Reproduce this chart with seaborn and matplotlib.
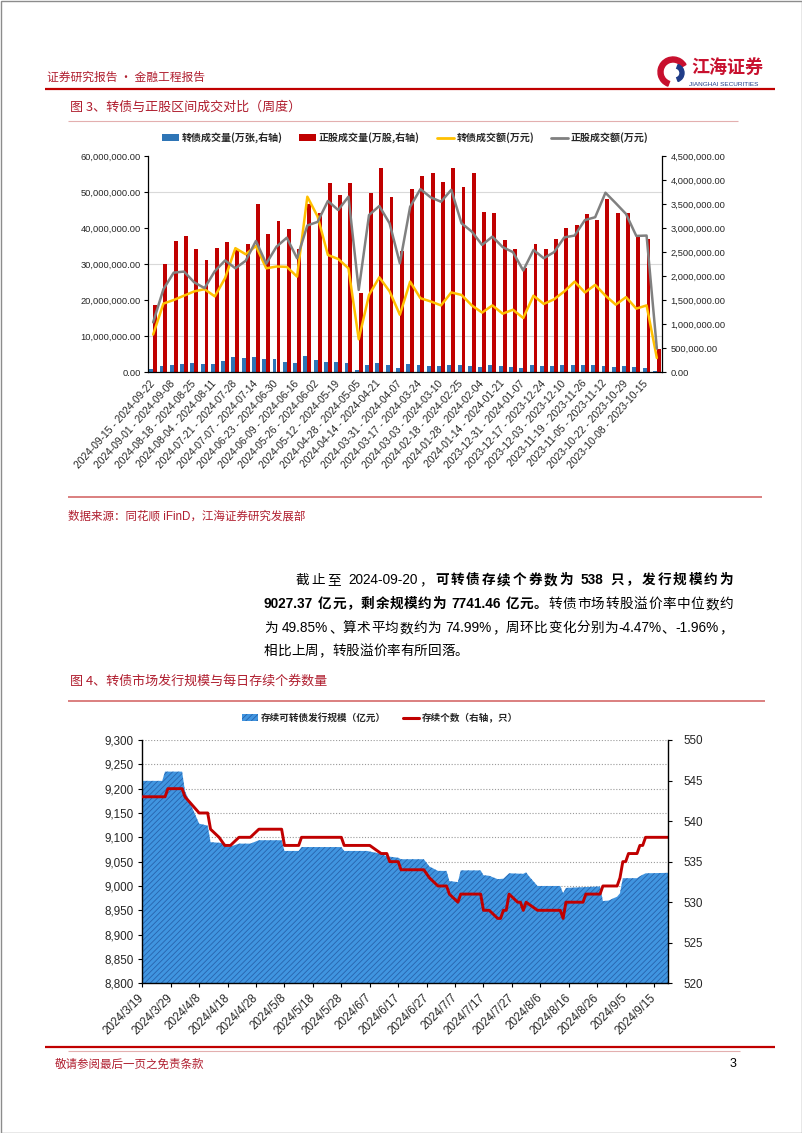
import numpy as np
import pandas as pd
import matplotlib
matplotlib.use("Agg")
import matplotlib.pyplot as plt
import matplotlib.ticker as mticker
from matplotlib.patches import Patch, Wedge, Rectangle
from matplotlib.lines import Line2D
import seaborn as sns

# ---------------- data: chart 1 (weekly) ----------------
weeks = [
    "2024-09-15 - 2024-09-22", "2024-09-08 - 2024-09-15", "2024-09-01 - 2024-09-08", "2024-08-25 - 2024-09-01",
    "2024-08-18 - 2024-08-25", "2024-08-11 - 2024-08-18", "2024-08-04 - 2024-08-11", "2024-07-28 - 2024-08-04",
    "2024-07-21 - 2024-07-28", "2024-07-14 - 2024-07-21", "2024-07-07 - 2024-07-14", "2024-06-30 - 2024-07-07",
    "2024-06-23 - 2024-06-30", "2024-06-16 - 2024-06-23", "2024-06-09 - 2024-06-16", "2024-06-02 - 2024-06-09",
    "2024-05-26 - 2024-06-02", "2024-05-19 - 2024-05-26", "2024-05-12 - 2024-05-19", "2024-05-05 - 2024-05-12",
    "2024-04-28 - 2024-05-05", "2024-04-21 - 2024-04-28", "2024-04-14 - 2024-04-21", "2024-04-07 - 2024-04-14",
    "2024-03-31 - 2024-04-07", "2024-03-24 - 2024-03-31", "2024-03-17 - 2024-03-24", "2024-03-10 - 2024-03-17",
    "2024-03-03 - 2024-03-10", "2024-02-25 - 2024-03-03", "2024-02-18 - 2024-02-25", "2024-02-04 - 2024-02-18",
    "2024-01-28 - 2024-02-04", "2024-01-21 - 2024-01-28", "2024-01-14 - 2024-01-21", "2024-01-07 - 2024-01-14",
    "2023-12-31 - 2024-01-07", "2023-12-24 - 2023-12-31", "2023-12-17 - 2023-12-24", "2023-12-10 - 2023-12-17",
    "2023-12-03 - 2023-12-10", "2023-11-26 - 2023-12-03", "2023-11-19 - 2023-11-26", "2023-11-12 - 2023-11-19",
    "2023-11-05 - 2023-11-12", "2023-10-29 - 2023-11-05", "2023-10-22 - 2023-10-29", "2023-10-15 - 2023-10-22",
    "2023-10-08 - 2023-10-15", "2023-10-01 - 2023-10-08",
]
# 转债成交量(万张, 右轴)
cb_vol = [70000, 132000, 153000, 166000, 187000, 166000, 166000, 222000, 312000, 284000,
          312000, 270000, 270000, 215000, 194000, 340000, 257000, 201000, 201000, 194000,
          45000, 139000, 180000, 153000, 90000, 166000, 139000, 118000, 118000, 146000,
          146000, 132000, 104000, 139000, 118000, 104000, 90000, 139000, 118000, 118000,
          139000, 153000, 139000, 139000, 118000, 104000, 132000, 104000, 90000, 12000]
# 正股成交量(万股, 右轴)
stk_vol = [1400000, 2250000, 2720000, 2840000, 2560000, 2330000, 2580000, 2700000, 2550000, 2660000,
           3510000, 2880000, 3150000, 2970000, 2560000, 3490000, 3320000, 3940000, 3690000, 3930000,
           1650000, 3720000, 4260000, 3640000, 2520000, 3810000, 4080000, 4140000, 3950000, 4240000,
           3860000, 4140000, 3340000, 3320000, 2750000, 2560000, 2160000, 2660000, 2570000, 2770000,
           3010000, 3070000, 3290000, 3170000, 3600000, 3320000, 3310000, 2840000, 2780000, 480000]
# 转债成交额(万元, 左轴)
cb_amt = [10_400_000, 19_000_000, 20_000_000, 21_200_000, 22_400_000, 23_000_000, 21_000_000, 26_100_000, 34_400_000, 32_700_000,
          35_000_000, 28_800_000, 29_300_000, 29_200_000, 26_500_000, 48_700_000, 43_200_000, 32_500_000, 31_400_000, 28_800_000,
          9_100_000, 21_400_000, 26_300_000, 22_400_000, 15_900_000, 25_100_000, 20_500_000, 19_600_000, 18_500_000, 22_100_000,
          21_400_000, 18_500_000, 16_500_000, 18_500_000, 16_200_000, 17_300_000, 15_000_000, 21_200_000, 18_900_000, 20_200_000,
          22_400_000, 25_100_000, 22_100_000, 24_200_000, 21_200_000, 18_700_000, 20_800_000, 17_600_000, 18_500_000, 3_900_000]
# 正股成交额(万元, 左轴)
stk_amt = [13_800_000, 23_000_000, 27_600_000, 27_900_000, 24_900_000, 23_300_000, 28_000_000, 31_000_000, 28_800_000, 30_900_000,
           36_400_000, 30_100_000, 34_800_000, 37_300_000, 31_600_000, 40_700_000, 41_700_000, 47_500_000, 45_000_000, 48_700_000,
           22_800_000, 43_600_000, 46_100_000, 41_300_000, 30_200_000, 45_900_000, 50_800_000, 48_500_000, 47_300_000, 50_600_000,
           41_300_000, 39_000_000, 35_300_000, 37_600_000, 34_700_000, 33_300_000, 28_200_000, 33_900_000, 31_600_000, 33_300_000,
           37_400_000, 37_900_000, 42_200_000, 43_000_000, 49_800_000, 46_900_000, 43_900_000, 37_800_000, 37_900_000, 6_500_000]
series1_names = ["转债成交量(万张,右轴)", "正股成交量(万股,右轴)", "转债成交额(万元)", "正股成交额(万元)"]

# ---------------- data: chart 2 (daily, vertices of the drawn lines) ----------------
scale_dates = ["2024-03-19", "2024-03-26", "2024-03-27", "2024-04-02", "2024-04-03", "2024-04-08", "2024-04-11",
               "2024-04-12", "2024-04-17", "2024-04-18", "2024-04-19", "2024-04-22", "2024-04-26", "2024-04-29",
               "2024-05-07", "2024-05-08", "2024-05-13", "2024-05-14", "2024-05-28", "2024-05-29", "2024-06-06",
               "2024-06-11", "2024-06-13", "2024-06-17", "2024-06-18", "2024-06-26", "2024-06-28", "2024-07-01",
               "2024-07-04", "2024-07-05", "2024-07-08", "2024-07-09", "2024-07-16", "2024-07-17", "2024-07-19",
               "2024-07-22", "2024-07-24", "2024-07-26", "2024-07-31", "2024-08-01", "2024-08-02", "2024-08-05",
               "2024-08-13", "2024-08-14", "2024-08-15", "2024-08-27", "2024-08-28", "2024-08-30", "2024-09-02",
               "2024-09-03", "2024-09-04", "2024-09-09", "2024-09-10", "2024-09-12", "2024-09-20"]
scale_values = [9216, 9216, 9235, 9235, 9195, 9128, 9124,
                9090, 9088, 9081, 9081, 9087, 9087, 9094,
                9094, 9072, 9072, 9080, 9080, 9072, 9072,
                9066, 9061, 9058, 9055, 9055, 9040, 9031,
                9031, 9010, 9008, 9032, 9032, 9022, 9021,
                9014, 9015, 9026, 9025, 9028, 9020, 9000,
                9000, 8985, 8996, 8999, 8969, 8970, 8978,
                8985, 9016, 9016, 9020, 9026, 9027]
count_dates = ["2024-03-19", "2024-03-27", "2024-03-28", "2024-04-02", "2024-04-03", "2024-04-08", "2024-04-11",
               "2024-04-12", "2024-04-15", "2024-04-17", "2024-04-19", "2024-04-22", "2024-04-26", "2024-04-29",
               "2024-05-07", "2024-05-08", "2024-05-13", "2024-05-14", "2024-05-28", "2024-05-29", "2024-06-07",
               "2024-06-11", "2024-06-13", "2024-06-14", "2024-06-17", "2024-06-18", "2024-06-26", "2024-06-28",
               "2024-07-01", "2024-07-04", "2024-07-05", "2024-07-08", "2024-07-09", "2024-07-16", "2024-07-17",
               "2024-07-19", "2024-07-22", "2024-07-23", "2024-07-24", "2024-07-25", "2024-07-26", "2024-07-29",
               "2024-07-30", "2024-07-31", "2024-08-01", "2024-08-05", "2024-08-13", "2024-08-14", "2024-08-15",
               "2024-08-21", "2024-08-22", "2024-08-27", "2024-08-28", "2024-08-30", "2024-09-02", "2024-09-03",
               "2024-09-04", "2024-09-05", "2024-09-06", "2024-09-09", "2024-09-10", "2024-09-11", "2024-09-12",
               "2024-09-20"]
count_values = [543, 543, 544, 544, 543, 541, 541,
                539, 538, 537, 537, 538, 538, 539,
                539, 537, 537, 538, 538, 537, 537,
                536, 536, 535, 535, 534, 534, 533,
                532, 532, 531, 530, 531, 531, 529,
                529, 528, 528, 529, 529, 531, 530,
                530, 529, 530, 529, 529, 528, 530,
                530, 531, 531, 532, 532, 532, 533,
                535, 535, 536, 536, 537, 537, 538,
                538]
x2_ticklabels = ["2024/3/19", "2024/3/29", "2024/4/8", "2024/4/18", "2024/4/28", "2024/5/8", "2024/5/18",
                 "2024/5/28", "2024/6/7", "2024/6/17", "2024/6/27", "2024/7/7", "2024/7/17", "2024/7/27",
                 "2024/8/6", "2024/8/16", "2024/8/26", "2024/9/5", "2024/9/15"]
series2_names = ["存续可转债发行规模（亿元）", "存续个数（右轴，只）"]

# ---------------- style ----------------
sns.set_theme(style="white")
plt.rcParams["font.family"] = ["Noto Sans CJK SC", "DejaVu Sans"]
plt.rcParams["axes.unicode_minus"] = False
plt.rcParams["hatch.linewidth"] = 0.6
CJK = ["Noto Sans CJK SC", "DejaVu Sans"]
MIX = ["Liberation Sans", "Noto Sans CJK SC", "DejaVu Sans"]
NUM = ["Liberation Sans", "DejaVu Sans"]
DARKRED = "#B01E2F"
RED = "#C00000"
BLUE = "#2E75B6"
YELLOW = "#FFC000"
GREY = "#808080"
AREA_FACE = "#4095E0"
AREA_HATCH = "#2763AC"

W, H = 802, 1133
fig = plt.figure(figsize=(W / 100, H / 100), dpi=100)
fig.patch.set_facecolor("white")
page = fig.add_axes([0, 0, 1, 1])
page.set_xlim(0, W)
page.set_ylim(H, 0)
page.axis("off")


def frect(x0, y0, x1, y1):
    return [x0 / W, 1 - y1 / H, (x1 - x0) / W, (y1 - y0) / H]


def hline(y, x0, x1, color, lw):
    page.add_line(Line2D([x0, x1], [y, y], color=color, lw=lw, solid_capstyle="butt"))


# page frame
page.add_patch(Rectangle((0.5, 0.5), W - 1, H - 1, fill=False, ec="#8C8C8C", lw=1.0))

# header
page.text(47, 77, "证券研究报告 · 金融工程报告", fontsize=8.5, color=DARKRED, va="center", family=CJK)
page.add_patch(Wedge((673, 72), 15, 110, 330, width=5, color="#C8102E"))
page.add_patch(Wedge((675, 73), 9, 290, 70, width=4, color="#1F3C88"))
page.text(691, 67, "江海证券", fontsize=13, weight="bold", color="#C8102E", va="center", family=CJK)
page.text(724, 84, "JIANGHAI SECURITIES", fontsize=4.6, color="#1F3C88", va="center", ha="center", family=NUM)
hline(89, 45, 775, RED, 1.6)

# chart 1 title
page.text(70, 107, "图 3、转债与正股区间成交对比（周度）", fontsize=9.4, color=DARKRED, va="center", family=CJK)
hline(121, 68, 738, "#E3AFAF", 0.8)

# ---------------- chart 1 ----------------
ax1 = fig.add_axes(frect(148, 156, 662, 372))
ax1r = ax1.twinx()
ax1.set_zorder(ax1r.get_zorder() + 1)
ax1.patch.set_visible(False)

bars = pd.DataFrame({
    "week": weeks + weeks,
    "series": [series1_names[0]] * len(weeks) + [series1_names[1]] * len(weeks),
    "value": cb_vol + stk_vol,
})
sns.barplot(data=bars, x="week", y="value", hue="series", order=weeks,
            hue_order=series1_names[:2], palette=[BLUE, RED], saturation=1,
            width=0.76, gap=0, errorbar=None, legend=False, ax=ax1r, linewidth=0)

pos = np.arange(len(weeks))
sns.lineplot(x=pos, y=cb_amt, ax=ax1, color=YELLOW, lw=1.8)
sns.lineplot(x=pos, y=stk_amt, ax=ax1, color=GREY, lw=1.8)

ax1.set_xlim(-0.5, len(weeks) - 0.5)
ax1.set_ylim(0, 60_000_000)
ax1.set_yticks(np.arange(0, 60_000_001, 10_000_000))
ax1r.set_ylim(0, 4_500_000)
ax1r.set_yticks(np.arange(0, 4_500_001, 500_000))
fmt2 = mticker.FuncFormatter(lambda v, p: f"{v:,.2f}")
ax1.yaxis.set_major_formatter(fmt2)
ax1r.yaxis.set_major_formatter(fmt2)
ax1r.yaxis.set_minor_locator(mticker.MultipleLocator(750_000))
ax1r.grid(which="minor", axis="y", color="#D9D9D9", lw=0.8)
ax1r.grid(which="major", visible=False)
ax1r.set_axisbelow(True)
ax1.grid(False)

ax1.set_xticks(pos[::2])
ax1.set_xticklabels(weeks[::2], rotation=48, ha="right", va="center", rotation_mode="anchor",
                    fontsize=7.4, family=NUM)
ax1.tick_params(axis="x", length=0, pad=7)
ax1.tick_params(axis="y", left=True, length=3, width=0.8, color="black", labelsize=6.7, pad=2)
ax1r.tick_params(axis="y", which="major", right=True, length=3, width=0.8, color="black", labelsize=6.7, pad=3)
ax1r.tick_params(axis="y", which="minor", length=0)
for lbl in ax1.get_yticklabels() + ax1r.get_yticklabels():
    lbl.set_fontfamily(NUM)
for a in (ax1, ax1r):
    a.set_xlabel("")
    a.set_ylabel("")
    a.spines["top"].set_visible(False)
ax1.spines["right"].set_visible(False)
ax1r.spines["left"].set_visible(False)
ax1r.spines["bottom"].set_visible(False)
for s in ("left", "bottom"):
    ax1.spines[s].set_color("black")
    ax1.spines[s].set_linewidth(0.9)
ax1r.spines["right"].set_color("black")
ax1r.spines["right"].set_linewidth(0.9)

h1 = [Patch(facecolor=BLUE, edgecolor="none"), Patch(facecolor=RED, edgecolor="none"),
      Line2D([], [], color=YELLOW, lw=2), Line2D([], [], color=GREY, lw=2)]
fig.legend(h1, series1_names, loc="center", bbox_to_anchor=(405 / W, 1 - 138 / H), ncol=4, frameon=False,
           prop=dict(family=CJK, size=7.2, weight="bold"), handlelength=1.7, handleheight=0.75,
           handletextpad=0.25, columnspacing=1.7)

# separator + source
hline(497, 68, 762, "#D46A6A", 1.2)
page.text(68, 517, "数据来源：同花顺 iFinD，江海证券研究发展部", fontsize=8.3, color=DARKRED, va="center", family=MIX)

# ---------------- paragraph (justified) ----------------
PFS = 9.8
para = [
    ([("截止至 2024-09-20，", False), ("可转债存续个券数为 538 只，发行规模约为", True)], 296, 733, True, 584),
    ([("9027.37 亿元，剩余规模约为 7741.46 亿元。", True), ("转债市场转股溢价率中位数约", False)], 264, 733, True, 608),
    ([("为 49.85%、算术平均数约为 74.99%，周环比变化分别为-4.47%、-1.96%，", False)], 264, 733, True, 632),
    ([("相比上周，转股溢价率有所回落。", False)], 264, 733, False, 655),
]
renderer = fig.canvas.get_renderer()


def text_w(s, weight):
    t = page.text(0, 0, s, fontsize=PFS, family=MIX, weight=weight)
    w = t.get_window_extent(renderer).width
    t.remove()
    return w


def latin(ch):
    return ord(ch) < 128 and ch != " "


def tokenize(s):
    toks = []  # (start, text)
    i = 0
    while i < len(s):
        ch = s[i]
        if ch == " ":
            toks.append((i, " "))
            i += 1
        elif latin(ch):
            j = i
            while j < len(s) and latin(s[j]):
                j += 1
            toks.append((i, s[i:j]))
            i = j
        else:
            toks.append((i, ch))
            i += 1
    return toks


for segs, x0, x1, justify, yb in para:
    items = []
    seg_start = 0.0
    for s, b in segs:
        wt = "bold" if b else "normal"
        for st, tk in tokenize(s):
            if tk == " ":
                items.append((tk, wt, None))
            else:
                off = text_w(s[: st + len(tk)], wt) - text_w(tk, wt)
                items.append((tk, wt, seg_start + off))
        seg_start += text_w(s, wt)
    n = len(items)
    extra = (x1 - x0 - seg_start) / (n - 1) if (justify and n > 1) else 0.0
    for k, (tk, wt, off) in enumerate(items):
        if off is None:
            continue
        page.text(x0 + off + k * extra, yb, tk, fontsize=PFS, family=MIX, weight=wt,
                  color="black", va="baseline", ha="left")

# chart 2 title
page.text(70, 681, "图 4、转债市场发行规模与每日存续个券数量", fontsize=9.4, color=DARKRED, va="center", family=CJK)
hline(701, 68, 765, "#D46A6A", 1.2)

# ---------------- chart 2 ----------------
ax2 = fig.add_axes(frect(142.3, 740, 668.3, 983.3))
ax2r = ax2.twinx()
sd = pd.to_datetime(scale_dates)
ax2.fill_between(sd, scale_values, 8800, facecolor=AREA_FACE, edgecolor=AREA_HATCH,
                 hatch="//////", lw=0, zorder=2)
sns.lineplot(x=pd.to_datetime(count_dates), y=count_values, ax=ax2r, color=RED, lw=2.1)

ax2.set_ylim(8800, 9300)
ax2.set_yticks(np.arange(8800, 9301, 50))
ax2.yaxis.set_major_formatter(mticker.FuncFormatter(lambda v, p: f"{v:,.0f}"))
ax2r.set_ylim(520, 550)
ax2r.set_yticks(np.arange(520, 551, 5))
ax2.grid(axis="y", color="#9A9A9A", lw=0.8, ls=(0, (1, 1.6)))
ax2.grid(axis="x", visible=False)
ax2r.grid(False)
ax2.set_axisbelow(True)
xt = pd.to_datetime(x2_ticklabels, format="%Y/%m/%d")
ax2.set_xticks(xt)
ax2.set_xticklabels(x2_ticklabels, rotation=45, ha="right", va="center", rotation_mode="anchor",
                    fontsize=8.4, family=NUM)
ax2.set_xlim(pd.Timestamp("2024-03-19"), pd.Timestamp("2024-09-20"))
ax2.tick_params(axis="x", bottom=True, length=3, width=0.8, color="black", pad=6)
ax2.tick_params(axis="y", left=True, length=3, width=0.8, color="black", labelsize=8.4, pad=3)
ax2r.tick_params(axis="y", right=True, length=3, width=0.8, color="black", labelsize=8.4, pad=8)
for lbl in ax2.get_yticklabels() + ax2r.get_yticklabels():
    lbl.set_fontfamily(NUM)
for a in (ax2, ax2r):
    a.set_xlabel("")
    a.set_ylabel("")
    a.spines["top"].set_visible(False)
ax2.spines["right"].set_visible(False)
ax2r.spines["left"].set_visible(False)
ax2r.spines["bottom"].set_visible(False)
for s in ("left", "bottom"):
    ax2.spines[s].set_color("black")
    ax2.spines[s].set_linewidth(1.0)
ax2r.spines["right"].set_color("black")
ax2r.spines["right"].set_linewidth(1.0)

h2 = [Patch(facecolor=AREA_FACE, edgecolor=AREA_HATCH, hatch="//////", lw=0),
      Line2D([], [], color=RED, lw=2.2)]
fig.legend(h2, series2_names, loc="center", bbox_to_anchor=(380 / W, 1 - 718 / H), ncol=2, frameon=False,
           prop=dict(family=CJK, size=6.9, weight="bold"), handlelength=1.7, handleheight=0.8,
           handletextpad=0.3, columnspacing=1.8)

# footer
hline(1047, 45, 775, RED, 1.6)
hline(1051, 68, 740, "#E3AFAF", 0.8)
page.text(55, 1064, "敬请参阅最后一页之免责条款", fontsize=8.3, color=DARKRED, va="center", family=CJK)
page.text(730, 1064, "3", fontsize=9, color="black", va="center", family=NUM)

fig.savefig("out.png", dpi=100, facecolor="white")
